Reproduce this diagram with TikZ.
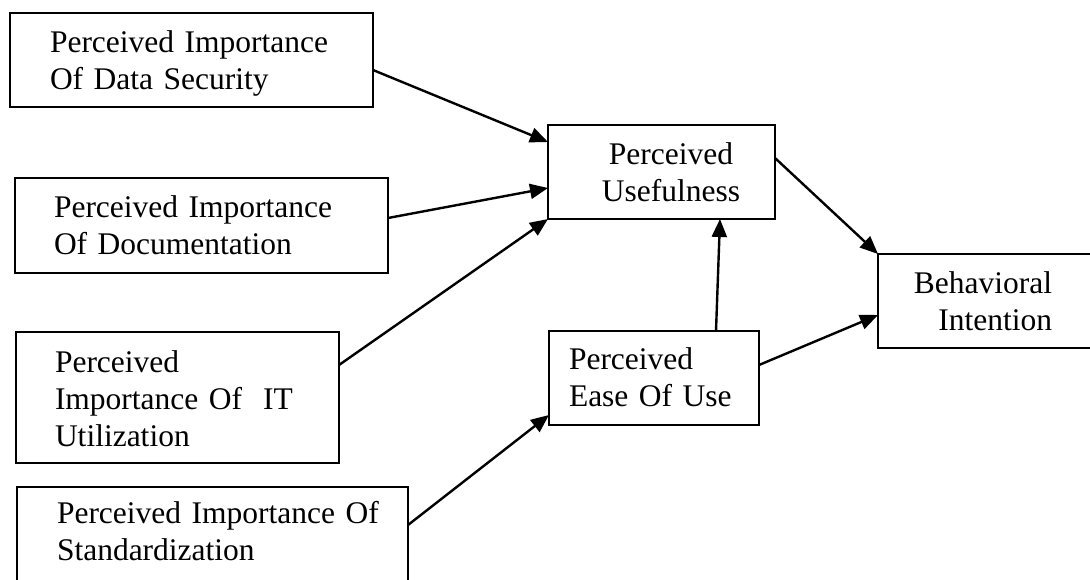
\documentclass[tikz,border=0pt]{standalone}
\usepackage{fontspec}
\setmainfont{Liberation Serif}
\usetikzlibrary{arrows.meta}
\tikzset{
  box/.style={draw=black, line width=2pt, anchor=north west, inner sep=0pt, outer sep=0pt},
  txt/.style={font=\fontsize{31.5}{37}\selectfont, inner sep=0pt, outer sep=0pt, text width=400pt, align=left, anchor=base west},
  arr/.style={line width=2.4pt, -{Triangle[length=18pt,width=15pt]}}
}
\begin{document}
\begin{tikzpicture}[x=1pt,y=-1pt]
\useasboundingbox (0,0) rectangle (1090,579);
\clip (0,0) rectangle (1090,579);
% boxes
\node[box, minimum width=363pt, minimum height=94pt] (ds) at (10,13) {};
\node[box, minimum width=373pt, minimum height=95pt] (doc) at (15,178) {};
\node[box, minimum width=323pt, minimum height=131pt] (it) at (16,332) {};
\node[box, minimum width=391pt, minimum height=100pt] (std) at (17,487) {};
\node[box, minimum width=227pt, minimum height=94pt] (pu) at (548,125) {};
\node[box, minimum width=210pt, minimum height=94pt] (peou) at (549,331) {};
\node[box, minimum width=222pt, minimum height=94pt] (bi) at (878,254) {};
% texts
\node[txt] (dst) at (50,52) {Perceived Importance\\Of Data Security};
\node[txt] (doct) at (54,217) {Perceived Importance\\Of Documentation};
\node[txt] (itt) at (55,372) {Perceived\\Importance Of\ \ IT\\Utilization};
\node[txt] (stdt) at (57,523) {Perceived Importance Of\\Standardization};
\node[txt, text width=200pt, align=center, anchor=base] (put) at (671,164) {Perceived\\Usefulness};
\node[txt] (peout) at (569,369) {Perceived\\Ease Of Use};
\node[txt, text width=200pt, align=right, anchor=base east] (bit) at (1052,293) {Behavioral\\Intention};
% connectors
\draw[arr] ([yshift=-10pt]ds.east) -- ([yshift=30pt]pu.west);
\draw[arr] ([yshift=7.5pt]doc.east) -- ([yshift=-16pt]pu.west);
\draw[arr] ([yshift=32.5pt]it.east) -- (pu.south west);
\draw[arr] ([yshift=12pt]std.east) -- ([yshift=-37pt]peou.west);
\draw[arr] ([xshift=62pt]peou.north) -- ([xshift=58.5pt]pu.south);
\draw[arr] ([yshift=14pt]pu.east) -- (bi.north west);
\draw[arr] ([yshift=13pt]peou.east) -- ([yshift=-14pt]bi.west);
\end{tikzpicture}
\end{document}
